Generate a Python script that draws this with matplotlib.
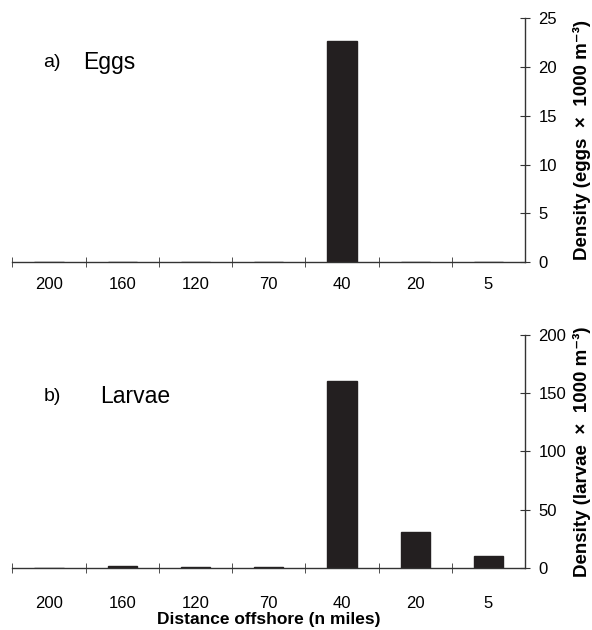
import numpy as np
import matplotlib.pyplot as plt
from matplotlib.ticker import FixedLocator, NullFormatter

plt.rcParams['font.family'] = ['Liberation Sans', 'DejaVu Sans']

# distance offshore stations (n miles)
stations = ['200', '160', '120', '70', '40', '20', '5']
eggs = [0, 0, 0, 0, 22.7, 0, 0]
larvae = [0, 1.5, 0.4, 0.4, 160, 31, 10]

fig = plt.figure(figsize=(5.92, 6.30), dpi=100)
ax_a = fig.add_axes([0.021, 0.584, 0.866, 0.387])
ax_b = fig.add_axes([0.021, 0.0985, 0.866, 0.370])

x = np.arange(len(stations))


def style_panel(ax, values, ymax, ystep, ylabel, xpad):
    ax.bar(x, values, width=0.4, color='#231f20', edgecolor='#231f20')
    ax.set_xlim(-0.5, len(stations) - 0.5)
    ax.set_ylim(0, ymax)
    for s in ['top', 'left']:
        ax.spines[s].set_visible(False)
    for s in ['bottom', 'right']:
        ax.spines[s].set_color('#333333')
        ax.spines[s].set_linewidth(1.0)

    # category labels centred, boundary ticks between them
    ax.set_xticks(x)
    ax.set_xticklabels(stations, fontsize=12)
    ax.tick_params(axis='x', which='major', length=0, pad=xpad)
    ax.xaxis.set_minor_locator(FixedLocator(np.arange(-0.5, len(stations) - 0.5, 1.0)))
    ax.xaxis.set_minor_formatter(NullFormatter())
    ax.tick_params(axis='x', which='minor', direction='inout', length=7, color='#333333')

    ax.yaxis.tick_right()
    ax.set_yticks(np.arange(0, ymax + 1, ystep))
    ax.tick_params(axis='y', direction='inout', length=7, labelsize=12, pad=6, color='#333333')
    ax.set_ylabel(ylabel, fontsize=13.5, fontweight='bold', rotation=90, va='center', ha='center')
    ax.yaxis.set_label_position('right')
    ax.yaxis.set_label_coords(1.094, 0.5)


style_panel(ax_a, eggs, 25, 5, 'Density (eggs  \u00d7  1000 m\u207b\u00b3)', 11)
style_panel(ax_b, larvae, 200, 50, 'Density (larvae  \u00d7  1000 m\u207b\u00b3)', 20)

ax_a.text(0.060, 0.82, 'a)', transform=ax_a.transAxes, fontsize=14, va='center')
ax_a.text(0.138, 0.82, 'Eggs', transform=ax_a.transAxes, fontsize=16.5, va='center')
ax_b.text(0.060, 0.734, 'b)', transform=ax_b.transAxes, fontsize=14, va='center')
ax_b.text(0.172, 0.734, 'Larvae', transform=ax_b.transAxes, fontsize=16.5, va='center')

ax_b.set_xlabel('Distance offshore (n miles)', fontsize=12.5, fontweight='bold', labelpad=1)

fig.savefig('out.png', dpi=100)
